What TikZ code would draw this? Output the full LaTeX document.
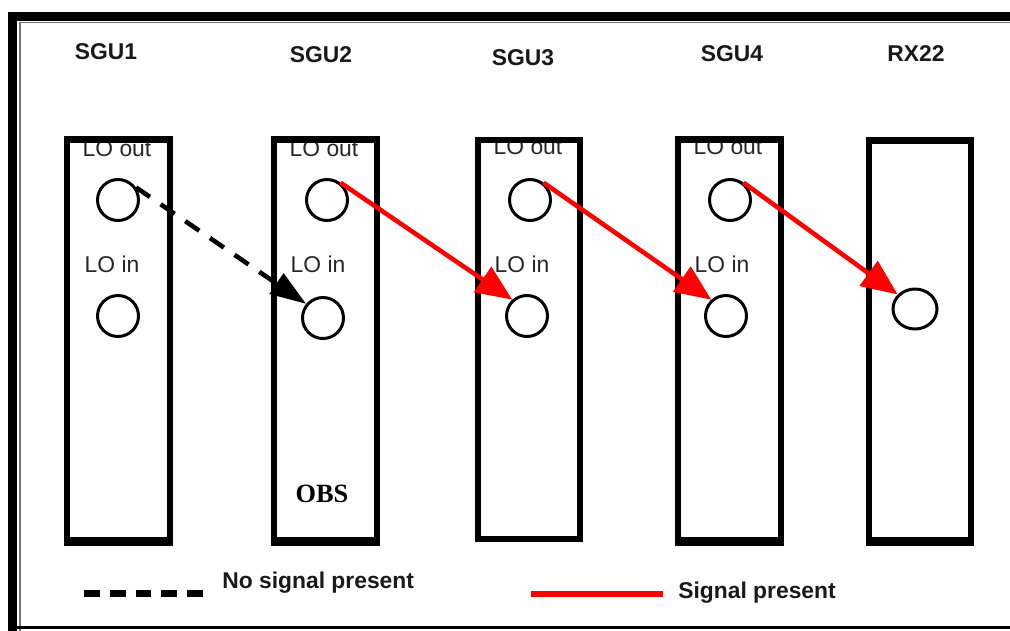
\documentclass[tikz,border=0pt]{standalone}
\usepackage{fontspec}
\setmainfont{Liberation Sans}
\newfontfamily\obsfont{Liberation Serif}
\usetikzlibrary{arrows.meta,shapes.geometric}
\tikzset{
  unitbox/.style={draw, line width=3.7pt, inner sep=0pt},
  port/.style={circle, draw, line width=1.7pt, minimum size=0.82cm, inner sep=0pt},
  title/.style={font=\fontsize{13}{15}\selectfont\bfseries, inner sep=0pt, text=black!90},
  lolabel/.style={font=\fontsize{13}{15}\selectfont, inner sep=0pt, text=black!85},
  legtext/.style={font=\fontsize{13}{15}\selectfont\bfseries, inner sep=0pt, anchor=west, text=black!90},
  sig/.style={draw=red, line width=2.6pt, -{Triangle[length=0.72cm, width=0.6cm]}},
  nosig/.style={draw=black, line width=2.6pt, dash pattern=on 9.6pt off 7.4pt, -{Triangle[length=0.72cm, width=0.48cm]}}
}
\begin{document}
\begin{tikzpicture}[x=0.02cm, y=-0.02cm]
\useasboundingbox (0,0) rectangle (1010,630);
% frame
\fill[black] (8,12) rectangle (1012,21);
\fill[black] (8,12) rectangle (17,632);
\draw[black!55, line width=0.7pt] (20,631) -- (20,22.5) -- (1012,22.5);
\draw[black, line width=1.2pt] (17,627.5) -- (1012,627.5);

% titles
\node[title] (t1) at (106,52) {SGU1};
\node[title] (t2) at (321,55) {SGU2};
\node[title] (t3) at (523,58) {SGU3};
\node[title] (t4) at (732,54) {SGU4};
\node[title] (t5) at (916,54) {RX22};

% LO out labels (under the box borders)
\node[lolabel] (lo1) at (117,149) {LO out};
\node[lolabel] (lo2) at (324,149) {LO out};
\node[lolabel] (lo3) at (528,147) {LO out};
\node[lolabel] (lo4) at (728,147) {LO out};

% boxes
\node[unitbox, minimum width=2.06cm, minimum height=8.02cm] (b1) at (118.5,340) {};
\node[unitbox, minimum width=2.06cm, minimum height=8.02cm] (b2) at (325.5,340) {};
\node[unitbox, minimum width=2.04cm, minimum height=7.98cm] (b3) at (529,339.5) {};
\node[unitbox, minimum width=2.06cm, minimum height=8.02cm] (b4) at (729.5,340) {};
\node[unitbox, minimum width=2.04cm, minimum height=8.00cm] (b5) at (920,340.5) {};
\foreach \b in {b1,b2,b4,b5}
  \fill[black] (\b.south west) rectangle ([yshift=-1.4pt]\b.south east);

% LO in labels
\node[lolabel] (li1) at (112,264) {LO in};
\node[lolabel] (li2) at (318,264) {LO in};
\node[lolabel] (li3) at (522,264) {LO in};
\node[lolabel] (li4) at (722,264) {LO in};

\node[font=\fontsize{15}{17}\selectfont\obsfont\bfseries, inner sep=0pt] (obs) at (322,494) {OBS};

% ports
\node[port] (o1) at (118,200) {};
\node[port] (o2) at (327,200) {};
\node[port] (o3) at (530,200) {};
\node[port] (o4) at (730,200) {};
\node[port] (i1) at (118,316) {};
\node[port] (i2) at (323,318) {};
\node[port] (i3) at (527,316) {};
\node[port] (i4) at (726,316) {};
\node[ellipse, draw, line width=1.7pt, minimum width=0.88cm, minimum height=0.8cm, inner sep=0pt] (rx) at (915,309) {};

% connections
\draw[nosig] (o1.35) -- (i2.140);
\draw[sig] (o2.52) -- (i3.132);
\draw[sig] (o3.52) -- (i4.132);
\draw[sig] (o4.52) -- (rx.140);

% legend
\coordinate (la) at (84,593);
\coordinate (lb) at (207,593);
\draw[line width=4pt, dash pattern=on 9pt off 5.7pt] (la) -- (lb);
\node[legtext] (l1) at (222,583) {No signal present};
\coordinate (lc) at (531,594);
\coordinate (ld) at (663,594);
\draw[red, line width=3.4pt] (lc) -- (ld);
\node[legtext] (l2) at (678,593) {Signal present};
\end{tikzpicture}
\end{document}
